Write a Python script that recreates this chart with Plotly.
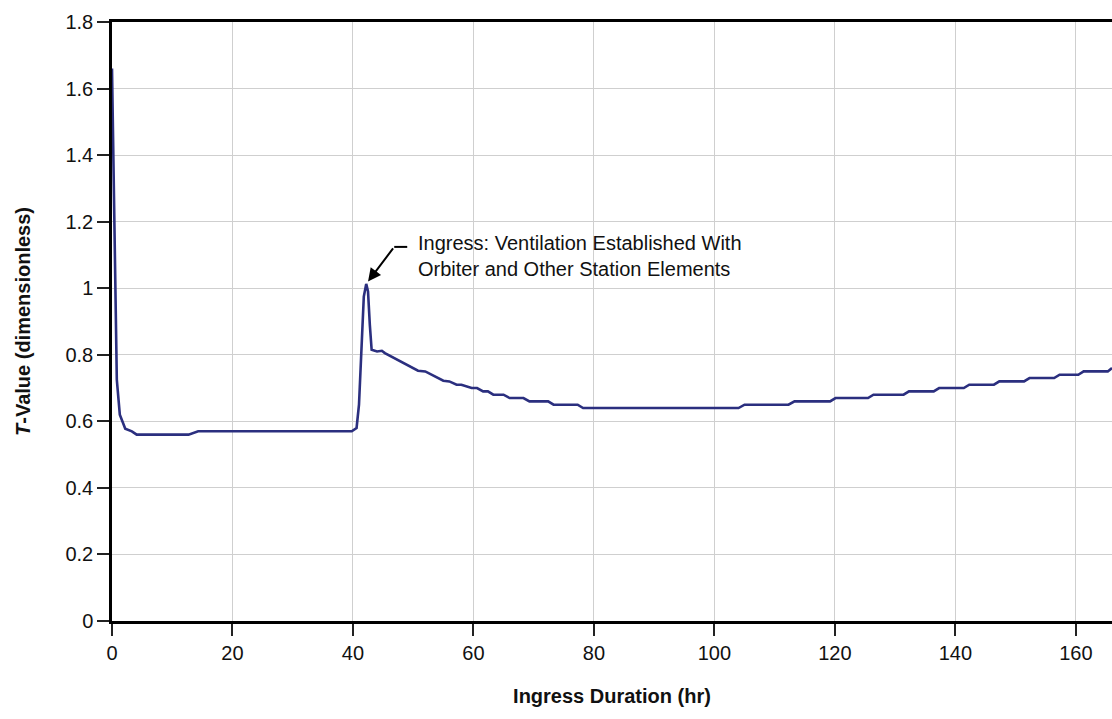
import plotly.graph_objects as go

# T-value over the ingress period (hours), read as a polyline of knots
hours = [0.0, 0.3, 0.6, 0.8, 1.3, 2.2, 3.3, 4.1, 12.7, 14.3, 39.8, 40.6, 41.0, 41.5,
         41.8, 42.2, 42.5, 42.8, 43.1, 44.0, 44.8, 45.3, 50.8, 52.0, 55.0, 56.0, 57.2, 58.0,
         59.7, 60.6, 61.6, 62.4, 63.3, 65.0, 66.0, 68.3, 69.3, 72.4, 73.3, 77.3,
         78.2, 104.0, 105.0, 112.3, 113.3, 119.2, 120.1, 125.5, 126.4, 131.4, 132.3,
         136.4, 137.3, 141.4, 142.3, 146.4, 147.3, 151.4, 152.3, 156.4, 157.3,
         160.4, 161.3, 165.3, 166.0]
t_value = [1.66, 1.25, 0.90, 0.725, 0.62, 0.578, 0.57, 0.56, 0.56, 0.57, 0.57, 0.58, 0.65, 0.86,
           0.975, 1.013, 0.99, 0.89, 0.815, 0.81, 0.812, 0.805, 0.752, 0.75, 0.722, 0.72, 0.71, 0.71,
           0.70, 0.70, 0.69, 0.69, 0.68, 0.68, 0.67, 0.67, 0.66, 0.66, 0.65, 0.65,
           0.64, 0.64, 0.65, 0.65, 0.66, 0.66, 0.67, 0.67, 0.68, 0.68, 0.69,
           0.69, 0.70, 0.70, 0.71, 0.71, 0.72, 0.72, 0.73, 0.73, 0.74,
           0.74, 0.75, 0.75, 0.76]

x_ticks = [0, 20, 40, 60, 80, 100, 120, 140, 160]
y_ticks = [0, 0.2, 0.4, 0.6, 0.8, 1.0, 1.2, 1.4, 1.6, 1.8]
y_tick_text = ["0", "0.2", "0.4", "0.6", "0.8", "1", "1.2", "1.4", "1.6", "1.8"]

note_text = "Ingress: Ventilation Established With<br>Orbiter and Other Station Elements"

FONT = "Liberation Sans Narrow, Arial Narrow, Liberation Sans, Arial, sans-serif"
LINE_COLOR = "#2b2f7f"

# ventilation spike: highest value after the initial transient
spike_idx = [i for i, h in enumerate(hours) if h > 20]
peak_i = max(spike_idx, key=lambda i: t_value[i])
peak_x, peak_y = hours[peak_i], t_value[peak_i]

fig = go.Figure()
fig.add_trace(go.Scatter(
    x=hours, y=t_value, mode="lines",
    line=dict(color=LINE_COLOR, width=2.6),
    showlegend=False, hoverinfo="skip",
))

# arrow pointing at the peak, with a short horizontal leader toward the text
fig.add_annotation(
    x=peak_x, y=peak_y, xref="x", yref="y", text="",
    showarrow=True, arrowhead=2, arrowsize=1.3, arrowwidth=2, arrowcolor="black",
    ax=28, ay=-37, standoff=3,
)
fig.add_shape(
    type="line", xref="x", yref="y", xsizemode="pixel", ysizemode="pixel",
    xanchor=peak_x, yanchor=peak_y, x0=28, x1=41, y0=37, y1=37,
    line=dict(color="black", width=2),
)
fig.add_annotation(
    x=peak_x, y=peak_y, xref="x", yref="y", text=note_text,
    showarrow=False, xanchor="left", yanchor="middle", align="left",
    xshift=50, yshift=28,
    font=dict(family=FONT, size=20, color="#111111"),
)

fig.update_layout(
    width=1112, height=719,
    margin=dict(l=112, r=0, t=22, b=98),
    paper_bgcolor="white", plot_bgcolor="white",
    font=dict(family=FONT, size=20, color="#111111"),
)
fig.update_xaxes(
    range=[0, 166], tickvals=x_ticks, ticks="outside", ticklen=12,
    tickwidth=2, tickcolor="#222222",
    showline=True, linecolor="black", linewidth=2.5, mirror=True,
    showgrid=True, gridcolor="#cfcfcf", gridwidth=1, zeroline=False,
    title=dict(text="<b>Ingress Duration (hr)</b>", standoff=27,
               font=dict(family=FONT, size=20)),
)
fig.update_yaxes(
    range=[0, 1.8], tickvals=y_ticks, ticktext=y_tick_text,
    ticks="outside", ticklen=12, tickwidth=2, tickcolor="#222222",
    showline=True, linecolor="black", linewidth=2.5,
    showgrid=True, gridcolor="#cfcfcf", gridwidth=1, zeroline=False,
    title=dict(text="<b><i>T</i>-Value (dimensionless)</b>", standoff=30,
               font=dict(family=FONT, size=20)),
)

fig.write_html("out.html")
